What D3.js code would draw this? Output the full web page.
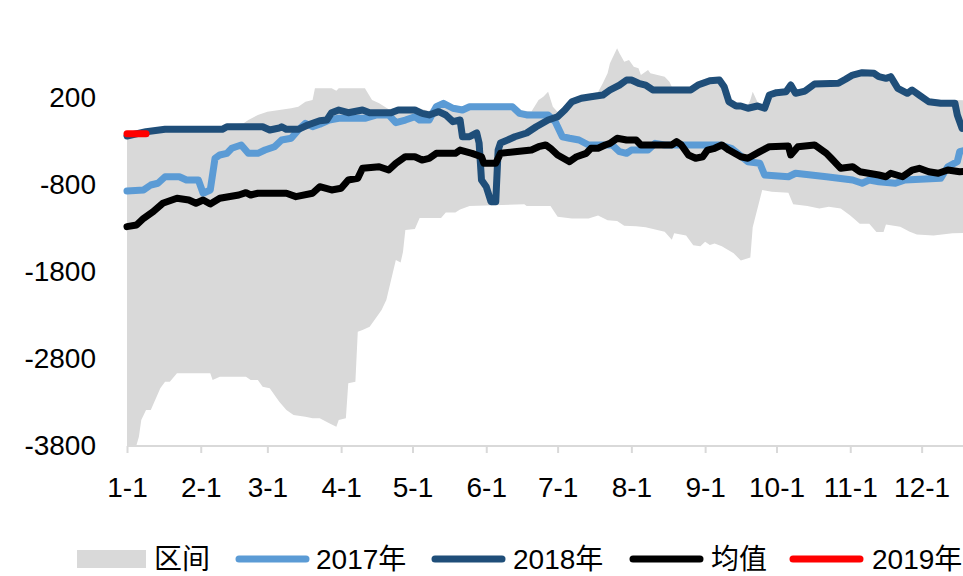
<!DOCTYPE html>
<html>
<head>
<meta charset="utf-8">
<script src="https://cdn.jsdelivr.net/npm/d3@7/dist/d3.min.js"></script>
<style>
  body { margin: 0; background: #fff; }
  svg { display: block; font-family: "Liberation Sans", Arial, "Noto Sans CJK SC", sans-serif; }
</style>
</head>
<body>
<svg id="chart" width="963" height="576"></svg>
<script>
// month tick labels and y tick values
var months = ["1-1", "2-1", "3-1", "4-1", "5-1", "6-1", "7-1", "8-1", "9-1", "10-1", "11-1", "12-1"];
var yTicks = [200, -800, -1800, -2800, -3800];

// range band (区间): upper edge and lower edge
var bandUpper = [
  ["01-01", -200], ["01-09", -170], ["01-17", -140], ["02-10", -140], ["02-12", -110], ["02-19", -90],
  ["02-21", -53], ["02-25", 5], ["03-01", 43], ["03-06", 62], ["03-11", 82], ["03-14", 100],
  ["03-17", 157], ["03-20", 177], ["03-21", 311], ["03-28", 311], ["03-30", 284], ["03-31", 311],
  ["04-11", 311], ["04-14", 177], ["04-17", 139], ["04-21", 70], ["04-25", 95], ["05-02", 95],
  ["05-08", 50], ["05-11", 139], ["05-14", 175], ["05-18", 120], ["05-22", 100], ["05-25", 135],
  ["06-12", 135], ["06-15", 60], ["06-20", 45], ["06-23", 177], ["06-25", 215], ["06-27", 272],
  ["06-29", 100], ["07-01", 40], ["07-07", 190], ["07-15", 250], ["07-18", 269], ["07-20", 369],
  ["07-22", 484], ["07-23", 599], ["07-25", 714], ["07-26", 771], ["07-27", 714], ["07-29", 617],
  ["07-31", 637], ["08-02", 560], ["08-04", 541], ["08-05", 464], ["08-08", 522], ["08-09", 484],
  ["08-12", 464], ["08-15", 445], ["08-17", 387], ["08-18", 330], ["08-26", 330], ["08-29", 390],
  ["09-03", 440], ["09-07", 445], ["09-09", 365], ["09-11", 200], ["09-14", 145], ["09-19", 120],
  ["09-20", 177], ["09-21", 272], ["09-23", 154], ["09-26", 120], ["09-28", 270], ["10-01", 300],
  ["10-05", 310], ["10-07", 385], ["10-09", 290], ["10-13", 318], ["10-17", 400], ["10-27", 405],
  ["10-30", 450], ["11-02", 500], ["11-06", 528], ["11-11", 522], ["11-13", 482], ["11-16", 465],
  ["11-18", 482], ["11-21", 350], ["11-25", 290], ["11-27", 330], ["11-30", 270], ["12-04", 195],
  ["12-09", 177], ["12-15", 177], ["12-31", 160]
];
var bandLower = [
  ["01-01", -3788], ["01-05", -3788], ["01-06", -3693], ["01-07", -3501], ["01-09", -3386], ["01-11", -3386],
  ["01-15", -3137], ["01-17", -3061], ["01-19", -3061], ["01-22", -2964], ["02-05", -2964], ["02-06", -3041],
  ["02-09", -3003], ["02-20", -3003], ["02-22", -3041], ["02-25", -3041], ["02-27", -3118], ["03-02", -3137],
  ["03-06", -3291], ["03-09", -3386], ["03-12", -3444], ["03-17", -3463], ["03-20", -3482], ["03-23", -3482],
  ["03-27", -3539], ["03-30", -3578], ["03-31", -3501], ["04-03", -3482], ["04-04", -3079], ["04-07", -3061],
  ["04-08", -2486], ["04-10", -2467], ["04-13", -2429], ["04-16", -2314], ["04-18", -2237], ["04-20", -2122],
  ["04-22", -1892], ["04-24", -1662], ["04-26", -1690], ["04-27", -1570], ["04-28", -1317], ["05-02", -1306],
  ["05-04", -1179], ["05-13", -1179], ["05-15", -1115], ["05-19", -1115], ["05-21", -1083], ["05-25", -1041],
  ["06-17", -1022], ["06-18", -1041], ["06-28", -1041], ["07-01", -1164], ["07-07", -1185], ["07-14", -1185],
  ["07-18", -1152], ["07-22", -1205], ["07-26", -1214], ["07-29", -1267], ["08-03", -1275], ["08-07", -1287],
  ["08-15", -1336], ["08-18", -1430], ["08-19", -1356], ["08-24", -1380], ["08-27", -1492], ["08-30", -1503],
  ["09-01", -1451], ["09-03", -1490], ["09-05", -1471], ["09-08", -1503], ["09-13", -1585], ["09-16", -1668],
  ["09-20", -1634], ["09-21", -1287], ["09-25", -857], ["09-29", -878], ["10-06", -890], ["10-08", -1022],
  ["10-14", -1041], ["10-19", -1070], ["10-23", -1049], ["10-28", -1070], ["11-01", -1152], ["11-05", -1246],
  ["11-09", -1246], ["11-12", -1340], ["11-15", -1340], ["11-16", -1254], ["11-22", -1279], ["11-26", -1336],
  ["11-29", -1369], ["12-06", -1380], ["12-14", -1356], ["12-31", -1340]
];

var s2017 = [
  ["01-01", -869], ["01-08", -857], ["01-11", -800], ["01-14", -780], ["01-17", -705], ["01-23", -705],
  ["01-26", -743], ["01-31", -743], ["02-02", -895], ["02-05", -857], ["02-07", -493], ["02-09", -455],
  ["02-12", -436], ["02-14", -378], ["02-18", -340], ["02-21", -436], ["02-25", -436], ["02-28", -398],
  ["03-04", -360], ["03-07", -283], ["03-11", -263], ["03-14", -168], ["03-17", -91], ["03-20", -130],
  ["03-23", -102], ["03-27", -53], ["03-31", -33], ["04-11", -33], ["04-16", 5], ["04-21", 5],
  ["04-24", -84], ["04-28", -53], ["05-02", -15], ["05-04", -53], ["05-08", -53], ["05-11", 100],
  ["05-14", 139], ["05-18", 82], ["05-22", 62], ["05-25", 100], ["06-12", 100], ["06-15", 24],
  ["06-18", 5], ["06-27", 5], ["06-30", -72], ["07-03", -245], ["07-06", -263], ["07-10", -283],
  ["07-14", -340], ["07-24", -340], ["07-27", -417], ["07-30", -436], ["08-01", -398], ["08-08", -398],
  ["08-11", -321], ["08-15", -340], ["09-07", -340], ["09-12", -378], ["09-19", -532], ["09-24", -551],
  ["09-26", -685], ["10-06", -705], ["10-09", -665], ["10-22", -705], ["11-02", -743], ["11-06", -780],
  ["11-09", -743], ["11-13", -762], ["11-20", -780], ["11-24", -743], ["12-09", -723], ["12-12", -590],
  ["12-16", -532], ["12-17", -417], ["12-22", -380]
];

var s2018 = [
  ["01-01", -237], ["01-09", -187], ["01-17", -160], ["02-10", -160], ["02-12", -130], ["02-27", -130],
  ["03-02", -168], ["03-06", -145], ["03-07", -130], ["03-09", -160], ["03-14", -160], ["03-18", -110],
  ["03-23", -61], ["03-26", -53], ["03-28", 31], ["03-31", 62], ["04-04", 31], ["04-10", 62],
  ["04-13", 31], ["04-22", 31], ["04-25", 62], ["05-02", 62], ["05-05", 24], ["05-08", 5],
  ["05-12", 43], ["05-15", 5], ["05-18", -72], ["05-21", -53], ["05-22", -245], ["05-25", -245],
  ["05-28", -202], ["05-29", -317], ["05-30", -743], ["06-01", -820], ["06-03", -992], ["06-05", -992],
  ["06-06", -398], ["06-07", -317], ["06-10", -283], ["06-13", -245], ["06-18", -202], ["06-22", -130],
  ["06-27", -53], ["07-01", -15], ["07-04", 62], ["07-07", 157], ["07-11", 197], ["07-15", 215],
  ["07-20", 234], ["07-23", 292], ["07-27", 349], ["07-30", 407], ["08-01", 407], ["08-04", 369],
  ["08-07", 349], ["08-10", 292], ["08-26", 292], ["08-29", 349], ["09-03", 399], ["09-07", 407],
  ["09-09", 330], ["09-11", 157], ["09-14", 108], ["09-16", 108], ["09-19", 82], ["09-23", 108],
  ["09-26", 82], ["09-28", 234], ["10-01", 261], ["10-05", 272], ["10-07", 349], ["10-09", 254],
  ["10-13", 280], ["10-17", 361], ["10-27", 369], ["10-30", 415], ["11-02", 464], ["11-06", 491],
  ["11-11", 484], ["11-13", 445], ["11-16", 426], ["11-18", 445], ["11-21", 311], ["11-25", 254],
  ["11-27", 292], ["11-30", 234], ["12-04", 157], ["12-09", 139], ["12-15", 139], ["12-16", 5],
  ["12-18", -150]
];

var sMean = [
  ["01-01", -1279], ["01-05", -1260], ["01-08", -1183], ["01-12", -1107], ["01-16", -1010], ["01-22", -953],
  ["01-27", -972], ["01-30", -1010], ["02-02", -972], ["02-05", -1018], ["02-09", -953], ["02-17", -915],
  ["02-20", -888], ["02-22", -915], ["02-25", -895], ["03-09", -895], ["03-13", -934], ["03-20", -895],
  ["03-23", -820], ["03-28", -857], ["04-01", -838], ["04-04", -743], ["04-08", -723], ["04-10", -608],
  ["04-17", -590], ["04-21", -628], ["04-24", -551], ["04-28", -475], ["05-02", -475], ["05-05", -513],
  ["05-08", -493], ["05-11", -436], ["05-19", -436], ["05-21", -398], ["05-26", -436], ["05-30", -475],
  ["05-31", -551], ["06-05", -551], ["06-07", -436], ["06-13", -417], ["06-20", -398], ["06-23", -360],
  ["06-26", -340], ["06-28", -378], ["07-01", -455], ["07-06", -532], ["07-09", -475], ["07-13", -436],
  ["07-15", -378], ["07-18", -378], ["07-21", -340], ["07-23", -321], ["07-26", -263], ["07-30", -283],
  ["08-03", -283], ["08-05", -340], ["08-18", -340], ["08-20", -302], ["08-22", -340], ["08-25", -455],
  ["08-28", -493], ["08-31", -475], ["09-02", -398], ["09-05", -378], ["09-08", -340], ["09-11", -398],
  ["09-16", -475], ["09-19", -493], ["09-24", -417], ["09-28", -360], ["10-06", -352], ["10-07", -455],
  ["10-10", -360], ["10-17", -340], ["10-22", -436], ["10-24", -493], ["10-28", -608], ["11-02", -590],
  ["11-05", -647], ["11-13", -685], ["11-16", -705], ["11-18", -665], ["11-23", -705], ["11-27", -628],
  ["11-30", -608], ["12-04", -647], ["12-08", -665], ["12-12", -628], ["12-17", -647], ["12-25", -640]
];

var s2019 = [["01-01", -210], ["01-09", -210]];

var legendNames = ["区间", "2017年", "2018年", "均值", "2019年"];
var legendColors = ["#d9d9d9", "#5b9bd5", "#1f4e79", "#000000", "#ff0000"];

var parseDay = d3.timeParse("%Y-%m-%d");
function toDate(md) { return parseDay("2019-" + md); }

var svg = d3.select("#chart");

var x = d3.scaleTime()
  .domain([toDate("01-01"), toDate("12-31")])
  .range([127, 993]);
var y = d3.scaleLinear()
  .domain([-3800, 1200])
  .range([446, 11]);

// band polygon
var bandPts = bandUpper.map(function (d) { return [x(toDate(d[0])), y(d[1])]; })
  .concat(bandLower.slice().reverse().map(function (d) { return [x(toDate(d[0])), y(d[1])]; }));
svg.append("path")
  .attr("d", d3.line()(bandPts) + "Z")
  .attr("fill", "#d9d9d9");

// x axis
var xAxis = svg.append("g")
  .attr("transform", "translate(0," + y(-3800) + ")")
  .call(d3.axisBottom(x)
    .tickValues(months.map(function (m) { var p = m.split("-"); return new Date(2019, +p[0] - 1, +p[1]); }))
    .tickFormat(function (d, i) { return months[i]; })
    .tickSizeInner(7).tickSizeOuter(0).tickPadding(24));
xAxis.select(".domain").attr("stroke", "#d9d9d9").attr("stroke-width", 2)
  .attr("d", "M127,0H993");
xAxis.selectAll(".tick line").attr("stroke", "#d9d9d9").attr("stroke-width", 2);
xAxis.selectAll(".tick text").attr("fill", "#000").attr("font-size", "28px")
  .attr("font-family", "Liberation Sans, Arial, sans-serif");

// y axis labels
var yAxis = svg.append("g")
  .attr("transform", "translate(127,0)")
  .call(d3.axisLeft(y).tickValues(yTicks).tickSize(0).tickPadding(31)
    .tickFormat(function (d) { return String(d); }));
yAxis.select(".domain").remove();
yAxis.selectAll(".tick text").attr("fill", "#000").attr("font-size", "28px")
  .attr("font-family", "Liberation Sans, Arial, sans-serif");

var line = d3.line()
  .x(function (d) { return x(toDate(d[0])); })
  .y(function (d) { return y(d[1]); });

var series = [
  { data: s2017, color: "#5b9bd5" },
  { data: s2018, color: "#1f4e79" },
  { data: sMean, color: "#000000" },
  { data: s2019, color: "#ff0000" }
];
svg.selectAll(".series")
  .data(series)
  .enter().append("path")
  .attr("class", "series")
  .attr("d", function (d) { return line(d.data); })
  .attr("fill", "none")
  .attr("stroke", function (d) { return d.color; })
  .attr("stroke-width", 7)
  .attr("stroke-linejoin", "round")
  .attr("stroke-linecap", "round");

// legend
var legendX = [77, 236, 432, 630, 790];
var legendTextX = [154, 316, 513, 711, 872];
var lg = svg.append("g").attr("class", "legend");
legendNames.forEach(function (name, i) {
  if (i === 0) {
    lg.append("rect").attr("x", legendX[i]).attr("y", 550).attr("width", 69).attr("height", 18)
      .attr("fill", legendColors[i]);
  } else {
    lg.append("line").attr("x1", legendX[i] + 3).attr("x2", legendX[i] + 70)
      .attr("y1", 559).attr("y2", 559)
      .attr("stroke", legendColors[i]).attr("stroke-width", 7).attr("stroke-linecap", "round");
  }
  lg.append("text").attr("x", legendTextX[i]).attr("y", 569)
    .attr("font-size", "28px").attr("fill", "#000")
    .text(name);
});
</script>
</body>
</html>
